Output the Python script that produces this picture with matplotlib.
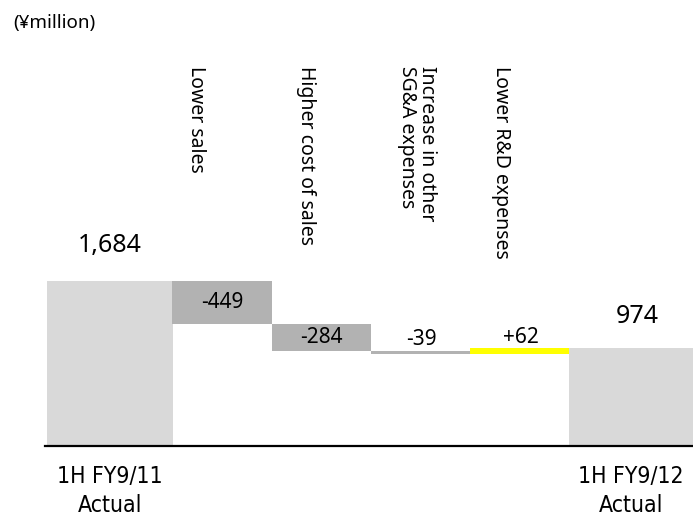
import matplotlib
matplotlib.use("Agg")
import matplotlib.pyplot as plt
import matplotlib.transforms as mtransforms

# values in ¥million
start_label = "1H FY9/11\nActual"
end_label = "1H FY9/12\nActual"
start_value = 1684
end_value = 974
step_names = ["Lower sales", "Higher cost of sales",
              "Increase in other\nSG&A expenses", "Lower R&D expenses"]
step_values = [-449, -284, -39, 62]
value_texts = ["1,684", "-449", "-284", "-39", "+62", "974"]

# layout (x in units of 100 px from the axes' left edge)
bar_left = [0.02, 1.27, 2.27, 3.26, 4.25, 5.24]
bar_width = [1.26, 1.0, 0.99, 0.99, 0.99, 1.24]
name_x = [1.51, 2.61, 3.72, 4.56]
y_min, y_max = -52.8, 3947

c_total = "#d9d9d9"
c_down = "#b2b2b2"
c_up = "#ffff00"
txt_font = ["Noto Sans", "DejaVu Sans"]

fig = plt.figure(figsize=(6.93, 5.18), dpi=100)
ax = fig.add_axes([45 / 693, 72 / 518, 648 / 693, 380 / 518])
ax.set_xlim(0, 6.48)
ax.set_ylim(y_min, y_max)

# totals
ax.bar(bar_left[0], start_value - y_min, width=bar_width[0], bottom=y_min,
       align="edge", color=c_total, zorder=2)
ax.bar(bar_left[5], end_value - y_min, width=bar_width[5], bottom=y_min,
       align="edge", color=c_total, zorder=2)

# floating steps
level = start_value
step_tops = []
for i, v in enumerate(step_values):
    lo = min(level, level + v)
    ax.bar(bar_left[i + 1], abs(v), width=bar_width[i + 1], bottom=lo,
           align="edge", color=c_up if v > 0 else c_down, zorder=2)
    step_tops.append((lo, max(level, level + v)))
    level += v

def cx(i):
    return bar_left[i] + bar_width[i] / 2

# value labels
ax.annotate(value_texts[0], (cx(0), start_value), xytext=(0, 21),
            textcoords="offset points", ha="center", va="baseline",
            fontsize=18, family=txt_font)
ax.annotate(value_texts[5], (cx(5) + 0.06, end_value), xytext=(0, 18),
            textcoords="offset points", ha="center", va="baseline",
            fontsize=18, family=txt_font)
for i in range(4):
    lo, hi = step_tops[i]
    if i < 2:
        ax.text(cx(i + 1), (lo + hi) / 2, value_texts[i + 1], ha="center",
                va="center", fontsize=15, family=txt_font, zorder=3)
    else:
        ax.annotate(value_texts[i + 1], (cx(i + 1) + 0.01, hi), xytext=(0, 4),
                    textcoords="offset points", ha="center", va="baseline",
                    fontsize=15, family=txt_font)

# rotated step names
trans = mtransforms.blended_transform_factory(ax.transData, ax.transAxes)
for i, name in enumerate(step_names):
    ax.text(name_x[i], 1.0, name, transform=trans, rotation=-90,
            rotation_mode="anchor", ha="left", va="center",
            multialignment="left", fontsize=14, family=txt_font,
            linespacing=1.0)

ax.set_xticks([cx(0), cx(5)])
ax.set_xticklabels([start_label, end_label], family="DejaVu Sans",
                   fontstretch="condensed", fontsize=16.5, linespacing=1.3)
ax.tick_params(axis="x", length=0, pad=14)
ax.set_yticks([])
for s in ["top", "left", "right"]:
    ax.spines[s].set_visible(False)
ax.spines["bottom"].set_linewidth(1.6)
ax.spines["bottom"].set_zorder(4)

fig.text(13 / 693, 1 - 14 / 518, "(¥million)", ha="left", va="top",
         fontsize=13.5, family=txt_font)

fig.savefig("out.png", dpi=100)
